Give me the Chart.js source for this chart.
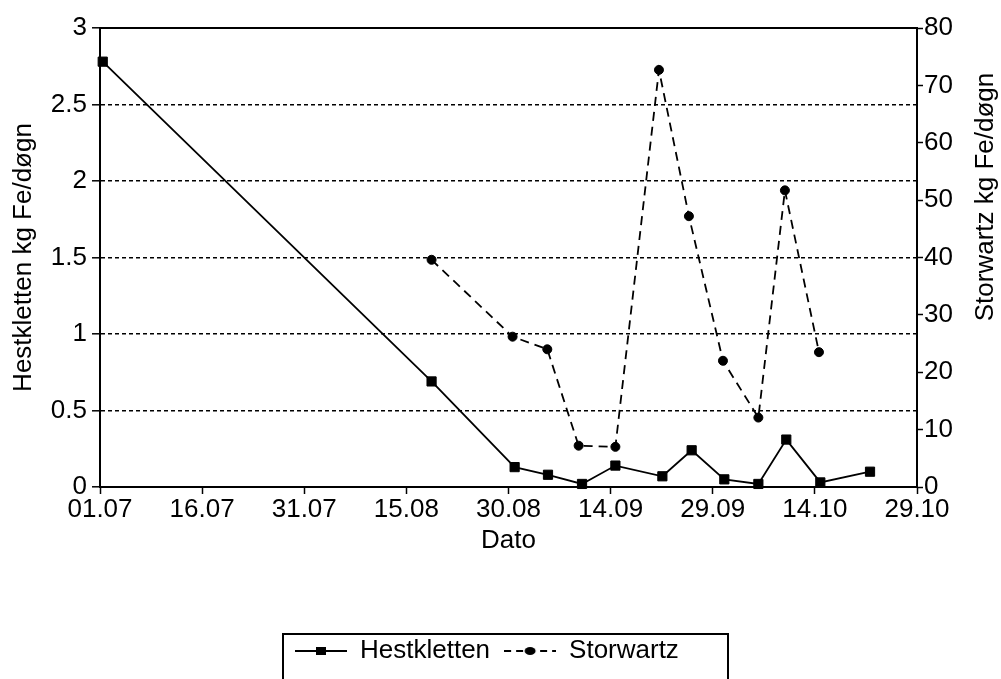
<!DOCTYPE html>
<html><head><meta charset="utf-8">
<script src="https://cdn.jsdelivr.net/npm/chart.js@4/dist/chart.umd.min.js"></script>
<style>html,body{margin:0;padding:0;background:#fff}canvas{display:block}</style>
</head><body>
<canvas id="c" width="1001" height="679"></canvas>
<script>
const tickLabels = ['01.07','16.07','31.07','15.08','30.08','14.09','29.09','14.10','29.10'];
const hestDays = [0.4, 48.7, 60.9, 65.8, 70.8, 75.7, 82.6, 86.9, 91.7, 96.7, 100.8, 105.8, 113.1];
const hestValues = [2.78, 0.69, 0.13, 0.08, 0.02, 0.14, 0.07, 0.24, 0.05, 0.02, 0.31, 0.03, 0.10];
const storDays = [48.7, 60.6, 65.7, 70.3, 75.7, 82.1, 86.5, 91.5, 96.7, 100.6, 105.6];
const storValues = [39.6, 26.2, 24.0, 7.2, 7.0, 72.7, 47.2, 22.0, 12.1, 51.7, 23.5];
const seriesNames = ['Hestkletten', 'Storwartz'];
const xTitle = 'Dato';
const leftTitle = 'Hestkletten kg Fe/døgn';
const rightTitle = 'Storwartz kg Fe/døgn';

const FONT = '"Liberation Sans", Arial, Helvetica, sans-serif';
Chart.defaults.font.family = FONT;
Chart.defaults.font.size = 26;
Chart.defaults.color = '#000';

function makeSymbol(dashed, marker) {
  const c = document.createElement('canvas');
  c.width = 52; c.height = 12;
  const g = c.getContext('2d');
  g.strokeStyle = '#000'; g.lineWidth = 2;
  if (dashed) g.setLineDash([7, 5]);
  g.beginPath(); g.moveTo(0, 6); g.lineTo(52, 6); g.stroke();
  g.setLineDash([]);
  g.fillStyle = '#000';
  if (marker === 'rect') { g.fillRect(21, 2, 10, 8); }
  else { g.beginPath(); g.ellipse(26, 6, 5.5, 4, 0, 0, Math.PI * 2); g.fill(); }
  return c;
}
const legendSymbols = [makeSymbol(false, 'rect'), makeSymbol(true, 'circle')];

const framePlugin = {
  id: 'framePlugin',
  beforeDraw(chart) {
    const ctx = chart.ctx;
    ctx.save(); ctx.fillStyle = '#fff'; ctx.fillRect(0, 0, chart.width, chart.height); ctx.restore();
  },
  afterLayout(chart) {
    if (chart.legend) chart.legend.left = 281;
  },
  afterDraw(chart) {
    const {ctx, chartArea} = chart;
    ctx.save();
    ctx.strokeStyle = '#000'; ctx.lineWidth = 2;
    ctx.beginPath(); ctx.moveTo(chartArea.left, chartArea.top); ctx.lineTo(chartArea.right, chartArea.top); ctx.stroke();
    const lg = chart.legend;
    ctx.strokeRect(lg.left + 2, lg.top + 10, 445, 48);
    ctx.translate(986, 197);
    ctx.rotate(-Math.PI / 2);
    ctx.font = '26px ' + FONT;
    ctx.fillStyle = '#000';
    ctx.textAlign = 'center';
    ctx.textBaseline = 'middle';
    ctx.fillText(rightTitle, 0, 0);
    ctx.restore();
  }
};

new Chart(document.getElementById('c'), {
  type: 'line',
  data: {
    datasets: [
      {
        label: seriesNames[0],
        data: hestDays.map((d, i) => ({x: d, y: hestValues[i]})),
        yAxisID: 'y',
        borderColor: '#000', backgroundColor: '#000',
        borderWidth: 1.8, tension: 0,
        pointStyle: 'rect', pointRadius: 6.5, pointBorderWidth: 1,
        pointBackgroundColor: '#000', pointBorderColor: '#000',
        clip: false
      },
      {
        label: seriesNames[1],
        data: storDays.map((d, i) => ({x: d, y: storValues[i]})),
        yAxisID: 'y2',
        borderColor: '#000', backgroundColor: '#000',
        borderWidth: 1.8, borderDash: [9, 6], tension: 0,
        pointStyle: 'circle', pointRadius: 4.5, pointBorderWidth: 1,
        pointBackgroundColor: '#000', pointBorderColor: '#000',
        clip: false
      }
    ]
  },
  options: {
    responsive: false,
    animation: false,
    layout: {padding: {top: 28, left: 0, right: 0, bottom: 5}},
    plugins: {
      tooltip: {enabled: false},
      legend: {
        position: 'bottom',
        align: 'start',
        labels: {
          usePointStyle: true,
          pointStyleWidth: 52,
          padding: 14,
          color: '#000',
          font: {size: 26},
          generateLabels: (chart) => Chart.defaults.plugins.legend.labels.generateLabels(chart)
            .map((l, i) => Object.assign(l, {pointStyle: legendSymbols[i], lineWidth: 0}))
        }
      }
    },
    scales: {
      x: {
        type: 'linear', position: 'bottom',
        min: 0, max: 120,
        afterFit: (s) => { s.height = 137; },
        ticks: {
          stepSize: 15, autoSkip: false, maxRotation: 0, padding: 0,
          callback: (v) => tickLabels[Math.round(v / 15)]
        },
        grid: {drawOnChartArea: false, drawTicks: true, tickLength: 7, tickColor: '#000', tickWidth: 1.5},
        border: {display: true, color: '#000', width: 2},
        title: {display: true, text: xTitle, color: '#000', font: {size: 26}, padding: {top: 0, bottom: 68}}
      },
      y: {
        type: 'linear', position: 'left',
        min: 0, max: 3,
        afterFit: (s) => { s.width = 100; },
        ticks: {stepSize: 0.5, padding: 5, callback: (v) => String(v)},
        grid: {
          drawOnChartArea: true,
          color: (c) => (c.tick && (c.tick.value === 0 || c.tick.value === 3)) ? 'rgba(0,0,0,0)' : '#000',
          lineWidth: 1.6,
          tickLength: 8, tickColor: '#000', tickWidth: 1.5, tickBorderDash: []
        },
        border: {display: true, color: '#000', width: 2, dash: [4, 3]},
        title: {display: true, text: leftTitle, color: '#000', font: {size: 26}, padding: {top: 8, bottom: 0}}
      },
      y2: {
        type: 'linear', position: 'right',
        min: 0, max: 80,
        afterFit: (s) => { s.width = 84; },
        ticks: {stepSize: 10, padding: 1, callback: (v) => String(v)},
        grid: {drawOnChartArea: false, tickLength: 6, tickColor: '#000', tickWidth: 1.5},
        border: {display: true, color: '#000', width: 2}
      }
    }
  },
  plugins: [framePlugin]
});
</script>
</body></html>
